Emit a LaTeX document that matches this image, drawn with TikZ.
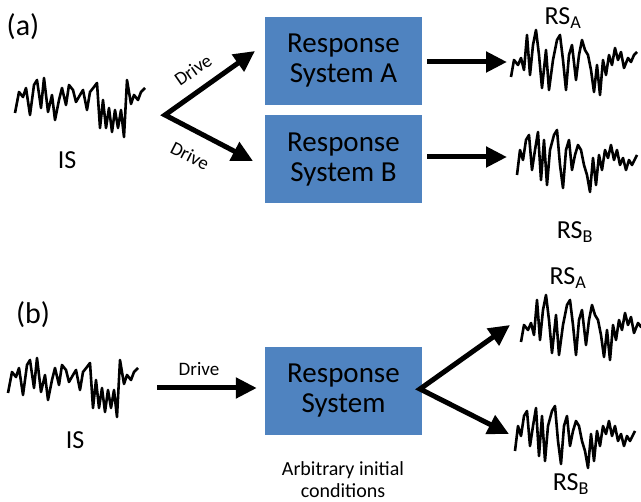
\documentclass[tikz,border=0pt]{standalone}
\usepackage{fontspec}
\setmainfont{Carlito}
\usetikzlibrary{arrows.meta,calc}
\definecolor{boxblue}{RGB}{79,131,192}
\newcommand{\ISpath}{(15,113) -- (19,92) -- (23,97) -- (26,88) -- (30,115) -- (34,85) -- (37,80) -- (41,108) -- (44,78) -- (48,112) -- (52,95) -- (55,120) -- (59,100) -- (62,88) -- (66,105) -- (69,85) -- (73,90) -- (76,102) -- (80,95) -- (83,90) -- (87,110) -- (90,92) -- (94,87) -- (97,83) -- (100,128) -- (103,100) -- (106,128) -- (109,108) -- (112,132) -- (115,110) -- (118,128) -- (121,110) -- (124,137) -- (127,80) -- (131,104) -- (134,95) -- (138,100) -- (141,92) -- (145,88)}
\newcommand{\RSApath}{(511,77) -- (514,60) -- (518,65) -- (521,58) -- (524,70) -- (527,35) -- (530,75) -- (533,45) -- (536,30) -- (539,55) -- (542,88) -- (546,50) -- (549,90) -- (553,60) -- (557,40) -- (560,35) -- (563,60) -- (566,90) -- (569,55) -- (572,45) -- (576,80) -- (579,55) -- (582,40) -- (585,50) -- (588,55) -- (591,70) -- (594,92) -- (597,65) -- (600,95) -- (603,60) -- (606,75) -- (609,55) -- (612,65) -- (615,48) -- (618,60) -- (621,52) -- (624,68) -- (628,58) -- (631,62) -- (634,55) -- (637,52)}
\newcommand{\RSBpath}{(517,175) -- (520,150) -- (523,160) -- (526,140) -- (529,135) -- (532,170) -- (535,150) -- (538,132) -- (541,180) -- (544,140) -- (547,185) -- (550,150) -- (554,135) -- (557,130) -- (560,165) -- (563,188) -- (566,150) -- (569,140) -- (572,170) -- (575,155) -- (578,145) -- (581,150) -- (584,165) -- (587,175) -- (590,192) -- (593,158) -- (596,185) -- (599,155) -- (602,170) -- (605,150) -- (608,158) -- (611,145) -- (614,160) -- (617,150) -- (620,165) -- (623,158) -- (626,170) -- (629,160) -- (632,165) -- (637,155)}
\begin{document}
\begin{tikzpicture}[x=1pt,y=-1pt,
 sys/.style={fill=boxblue, minimum width=157pt, minimum height=88pt, inner sep=0pt, align=center, font=\fontsize{29}{30}\selectfont},
 bigarrow/.style={line width=5pt, -{Triangle[length=21pt,width=20pt]}},
 fanarrow/.style={line width=5pt, line join=miter, {Triangle[length=21pt,width=20pt]}-{Triangle[length=21pt,width=20pt]}},
 sig/.style={line width=2.6pt, line join=round},
 lbl/.style={font=\fontsize{30}{32}\selectfont},
 islbl/.style={font=\fontsize{26}{28}\selectfont},
 drv/.style={font=\fontsize{19}{22}\selectfont, inner sep=1pt},
 rs/.style={font=\fontsize{26}{28}\selectfont},
 note/.style={font=\fontsize{20}{22}\selectfont, align=center}]
\useasboundingbox (0,0) rectangle (641,502);

% ---------- (a) ----------
\node[lbl] (la) at (23,27) {(a)};
\draw[sig] \ISpath;
\node[islbl] (isa) at (67,160) {IS};
\node[sys] (boxA) at (343.5,61) {Response\\System A};
\node[sys] (boxB) at (343.5,159.5) {Response\\System B};
\coordinate (va) at (165,115);
\coordinate (tUa) at (255,51);
\coordinate (tLa) at (253,161);
\draw[fanarrow] (tUa) -- (va) -- (tLa);
\node[drv, rotate=35] (drvU) at (193,70) {Drive};
\node[drv, rotate=-27] (drvL) at (190,156) {Drive};
\coordinate (sAa) at (507,62);
\coordinate (sBa) at (507,157);
\draw[bigarrow] ($(boxA.east)+(5,1)$) -- (sAa);
\draw[bigarrow] ($(boxB.east)+(5,-2.5)$) -- (sBa);
\draw[sig] \RSApath;
\draw[sig] \RSBpath;
\node[rs] (rsAa) at (563,18) {RS\textsubscript{A}};
\node[rs] (rsBa) at (575,232) {RS\textsubscript{B}};

% ---------- (b) ----------
\node[lbl] (lb) at (33,315) {(b)};
\draw[sig, shift={(-7,280)}] \ISpath;
\node[islbl] (isb) at (75,440) {IS};
\node[sys] (boxb) at (343.5,391) {Response\\System};
\coordinate (db) at (157,388);
\draw[bigarrow] (db) -- ($(boxb.west)+(-8,-3)$);
\node[drv] (drvb) at (199,369) {Drive};
\node[note] (arb) at (343,480) {Arbitrary initial\\conditions};
\coordinate (vb) at (420,389);
\coordinate (tUb) at (510,325);
\coordinate (tLb) at (509,434);
\draw[fanarrow] (tUb) -- (vb) -- (tLb);
\draw[sig, shift={(10,265)}] \RSApath;
\draw[sig, shift={(-2,276)}] \RSBpath;
\node[rs] (rsAb) at (568,278) {RS\textsubscript{A}};
\node[rs] (rsBb) at (571,484) {RS\textsubscript{B}};
\end{tikzpicture}
\end{document}
